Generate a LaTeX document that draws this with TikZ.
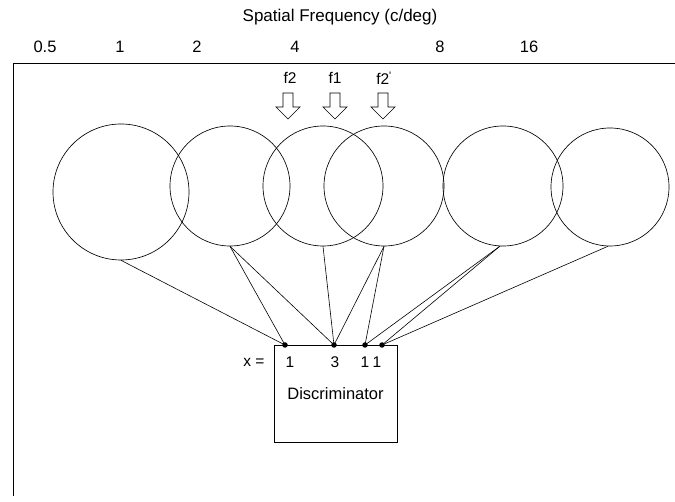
\documentclass[tikz,border=0pt]{standalone}
\usepackage{fontspec}
\setmainfont{Liberation Sans}
\begin{document}
\begin{tikzpicture}[x=1pt,y=-1pt,
  line width=0.7pt,
  chan/.style={draw, circle, inner sep=0pt, line width=0.65pt},
  link/.style={line width=0.6pt},
  dot/.style={circle, fill, inner sep=0pt, minimum size=5.5pt},
  tick/.style={font=\fontsize{16.5}{16.5}\selectfont},
  lbl/.style={font=\fontsize{15.5}{15.5}\selectfont},
  cue/.style={line width=0.65pt, line join=miter}]
\useasboundingbox (0,0) rectangle (675,502);

% title and axis
\node[font=\fontsize{17}{17}\selectfont] (title) at (340,17) {Spatial Frequency (c/deg)};
\coordinate (axR) at (675,63);
\coordinate (axO) at (13,63);
\coordinate (axB) at (13,496);
\draw[line width=0.9pt] (axR) -- (axO) -- (axB);

\node[tick] (t05) at (45,47) {0.5};
\node[tick] (t1)  at (120,47) {1};
\node[tick] (t2)  at (197,47) {2};
\node[tick] (t4)  at (295,47) {4};
\node[tick] (t8)  at (440,47) {8};
\node[tick] (t16) at (529,47) {16};

% frequency channels
\node[chan, minimum size=136pt] (c1) at (121,192) {};
\node[chan, minimum size=120pt] (c2) at (230,186) {};
\node[chan, minimum size=120pt] (c3) at (323,186) {};
\node[chan, minimum size=120pt] (c4) at (384,186) {};
\node[chan, minimum size=120pt] (c5) at (503,186) {};
\node[chan, minimum size=118pt] (c6) at (610,187) {};

% stimulus frequencies
\node[lbl] (lf2)  at (290,78) {f2};
\node[lbl] (lf1)  at (335,78) {f1};
\node[lbl] (lf2p) at (384,78) {f2\textsuperscript{\textquotesingle}};
\foreach \n/\cx in {af2/288, af1/335, af2p/383}{
  \draw[cue] (\cx-5,93) -- (\cx+5,93) -- (\cx+5,107) -- (\cx+12,107)
    -- (\cx,119) -- (\cx-12,107) -- (\cx-5,107) -- cycle;
}

% discriminator
\node[draw, line width=0.65pt, minimum width=123pt, minimum height=97pt, inner sep=0pt,
      font=\fontsize{16.5}{16.5}\selectfont] (disc) at (335.5,393.5) {Discriminator};
\node[dot] (d1) at (285,345) {};
\node[dot] (d2) at (334,345) {};
\node[dot] (d3) at (365,345) {};
\node[dot] (d4) at (382,345) {};

\node[lbl] (xeq) at (254,362) {x =};
\node[lbl] (x1) at (290,362) {1};
\node[lbl] (x2) at (335,362) {3};
\node[lbl] (x3) at (365,362) {1};
\node[lbl] (x4) at (377,362) {1};

% pooling connections
\draw[link] (c1.south) -- (d1.center);
\draw[link] (c2.south) -- (d1.center);
\draw[link] (c2.south) -- (d2.center);
\draw[link] (c3.south) -- (d2.center);
\draw[link] (c4.south) -- (d2.center);
\draw[link] (c4.south) -- (d3.center);
\draw[link] (c5.-93) -- (d3.center);
\draw[link] (c5.-93) -- (d4.center);
\draw[link] (c6.-92) -- (d4.center);
\end{tikzpicture}
\end{document}
